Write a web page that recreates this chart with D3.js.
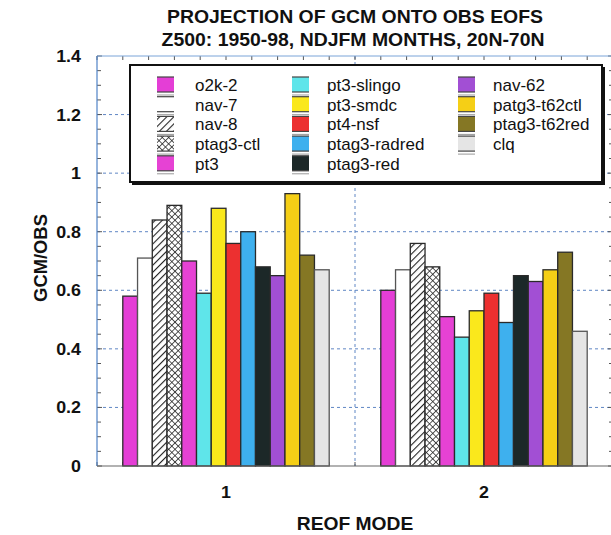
<!DOCTYPE html>
<html>
<head>
<meta charset="utf-8">
<script src="https://cdn.jsdelivr.net/npm/d3@7"></script>
<style>
  html, body { margin: 0; padding: 0; background: #fff; }
  svg { display: block; font-family: "Liberation Sans", Arial, sans-serif; }
</style>
</head>
<body>
<svg id="chart" width="611" height="535"></svg>
<script>
// REOF modes on the x axis
const modes = [1, 2];
// model runs, in bar / legend order
const series = ["o2k-2", "nav-7", "nav-8", "ptag3-ctl", "pt3",
                "pt3-slingo", "pt3-smdc", "pt4-nsf", "ptag3-radred", "ptag3-red",
                "nav-62", "patg3-t62ctl", "ptag3-t62red", "clq"];
// GCM/OBS ratio for each run
const mode1Values = [0.58, 0.71, 0.84, 0.89, 0.70, 0.59, 0.88, 0.76, 0.80, 0.68, 0.65, 0.93, 0.72, 0.67];
const mode2Values = [0.60, 0.67, 0.76, 0.68, 0.51, 0.44, 0.53, 0.59, 0.49, 0.65, 0.63, 0.67, 0.73, 0.46];
const yTickLabels = [0, 0.2, 0.4, 0.6, 0.8, 1, 1.2, 1.4];
const fills = ["#e43ed6", "#ffffff", "url(#hatch)", "url(#cross)", "#e642d4",
               "#5fe5ea", "#fae81c", "#ec3030", "#3eb0ee", "#1c2828",
               "#a24fd4", "#f5cf16", "#857724", "#e5e5e5"];

const svg = d3.select("#chart");
const plotL = 97, plotR = 613, plotT = 56, plotB = 466;

const x = d3.scaleLinear().domain([0.5, 2.5]).range([plotL, plotR]);
const y = d3.scaleLinear().domain([0, 1.4]).range([plotB, plotT]);
const inner = d3.scaleBand().domain(series).range([0, x(1.4) - x(0.6)]).padding(0);

// patterns
const defs = svg.append("defs");
const hatch = defs.append("pattern").attr("id", "hatch").attr("patternUnits", "userSpaceOnUse")
  .attr("width", 5).attr("height", 5).attr("patternTransform", "rotate(45)");
hatch.append("rect").attr("width", 5).attr("height", 5).attr("fill", "#fff");
hatch.append("line").attr("x1", 0).attr("y1", 0).attr("x2", 0).attr("y2", 5)
  .attr("stroke", "#222").attr("stroke-width", 2.2);
const cross = defs.append("pattern").attr("id", "cross").attr("patternUnits", "userSpaceOnUse")
  .attr("width", 4.5).attr("height", 4.5).attr("patternTransform", "rotate(45)");
cross.append("rect").attr("width", 4.5).attr("height", 4.5).attr("fill", "#fff");
cross.append("line").attr("x1", 0).attr("y1", 0).attr("x2", 0).attr("y2", 4.5)
  .attr("stroke", "#222").attr("stroke-width", 1.5);
cross.append("line").attr("x1", 0).attr("y1", 0).attr("x2", 4.5).attr("y2", 0)
  .attr("stroke", "#222").attr("stroke-width", 1.5);

function label(px, py, txt, size, sx, anchor, rotate, weight) {
  const g = svg.append("g")
    .attr("transform", `translate(${px},${py})` + (rotate ? ` rotate(${rotate})` : "") + ` scale(${sx},1)`);
  g.append("text").attr("text-anchor", anchor || "middle")
    .attr("font-size", size).attr("font-weight", weight || "bold").attr("fill", "#111").text(txt);
  return g;
}

// gridlines
const grid = svg.append("g").attr("stroke", "#5f86c4").attr("stroke-width", 1).attr("stroke-dasharray", "3,3");
yTickLabels.filter(v => v > 0 && v < 1.4).forEach(v => {
  grid.append("line").attr("x1", plotL).attr("x2", plotR).attr("y1", y(v)).attr("y2", y(v));
});
grid.append("line").attr("x1", x(1.5)).attr("x2", x(1.5)).attr("y1", plotT).attr("y2", plotB);

// minor ticks
const ticks = svg.append("g").attr("stroke", "#555").attr("stroke-width", 1);
d3.range(0, 1.4001, 0.05).forEach(v => {
  const len = Math.abs(v * 5 - Math.round(v * 5)) < 1e-6 ? 5 : 4;
  ticks.append("line").attr("x1", plotL).attr("x2", plotL + len).attr("y1", y(v)).attr("y2", y(v));
  ticks.append("line").attr("x1", plotR).attr("x2", plotR - len).attr("y1", y(v)).attr("y2", y(v));
});
d3.range(0.5, 2.5001, 0.1).forEach(v => {
  ticks.append("line").attr("x1", x(v)).attr("x2", x(v)).attr("y1", plotT).attr("y2", plotT + 4);
  ticks.append("line").attr("x1", x(v)).attr("x2", x(v)).attr("y1", plotB).attr("y2", plotB - 4);
});

// bars
const values = [mode1Values, mode2Values];
modes.forEach((m, mi) => {
  const g0 = x(m - 0.4);
  svg.append("g").selectAll("rect").data(series).join("rect")
    .attr("x", s => g0 + inner(s))
    .attr("y", (s, i) => y(values[mi][i]))
    .attr("width", inner.bandwidth())
    .attr("height", (s, i) => y(0) - y(values[mi][i]))
    .attr("fill", (s, i) => fills[i])
    .attr("stroke", (s, i) => (i === 1 || i === 13) ? "#555" : "#2a2a2a")
    .attr("stroke-width", 1.3);
});

// frame
svg.append("line").attr("x1", plotL).attr("x2", plotR).attr("y1", plotT).attr("y2", plotT).attr("stroke", "#7aa4d8");
svg.append("line").attr("x1", plotL).attr("x2", plotL).attr("y1", plotT).attr("y2", plotB).attr("stroke", "#4f82c6").attr("stroke-width", 1.2);
svg.append("line").attr("x1", plotR - 1).attr("x2", plotR - 1).attr("y1", plotT).attr("y2", plotB).attr("stroke", "#4f82c6");
svg.append("line").attr("x1", plotL).attr("x2", plotR).attr("y1", plotB).attr("y2", plotB).attr("stroke", "#666").attr("stroke-width", 1.2);

// y tick labels
yTickLabels.forEach(v => label(81, y(v) + 6, d3.format("~g")(v), 17, 1.05, "end"));
// x tick labels
modes.forEach(m => label(x(m), 498, String(m), 17, 1.05, "middle"));

// titles
label(355, 23, "PROJECTION OF GCM ONTO OBS EOFS", 18.5, 1.05);
label(353, 46, "Z500: 1950-98, NDJFM MONTHS, 20N-70N", 18.5, 1.05);
label(355, 530, "REOF MODE", 18, 1.07);
label(47, 258, "GCM/OBS", 17.5, 1.05, "middle", -90);

// legend
const lg = svg.append("g");
lg.append("rect").attr("x", 132).attr("y", 67).attr("width", 473).attr("height", 118).attr("fill", "#111");
lg.append("rect").attr("x", 130).attr("y", 65).attr("width", 472).attr("height", 117)
  .attr("fill", "#fff").attr("stroke", "#111").attr("stroke-width", 2);
const colSwatch = [157, 292, 458], colText = [195, 327, 493];
series.forEach((s, i) => {
  const col = i < 5 ? 0 : (i < 10 ? 1 : 2);
  const row = i < 5 ? i : (i < 10 ? i - 5 : i - 10);
  const yc = 85 + row * 19.7;
  const sxp = colSwatch[col];
  lg.append("rect").attr("x", sxp).attr("y", yc - 8).attr("width", 17).attr("height", 15)
    .attr("fill", fills[i]);
  lg.append("line").attr("x1", sxp).attr("x2", sxp + 17).attr("y1", yc - 8).attr("y2", yc - 8)
    .attr("stroke", "#444").attr("stroke-width", 1.2);
  lg.append("line").attr("x1", sxp).attr("x2", sxp + 17).attr("y1", yc + 7).attr("y2", yc + 7)
    .attr("stroke", "#444").attr("stroke-width", 1.2);
  lg.append("line").attr("x1", sxp).attr("x2", sxp + 17).attr("y1", yc + 10).attr("y2", yc + 10)
    .attr("stroke", "#999").attr("stroke-width", 1);
  lg.append("text").attr("x", colText[col]).attr("y", yc + 6)
    .attr("font-size", 17).attr("fill", "#111").text(s);
});
</script>
</body>
</html>
